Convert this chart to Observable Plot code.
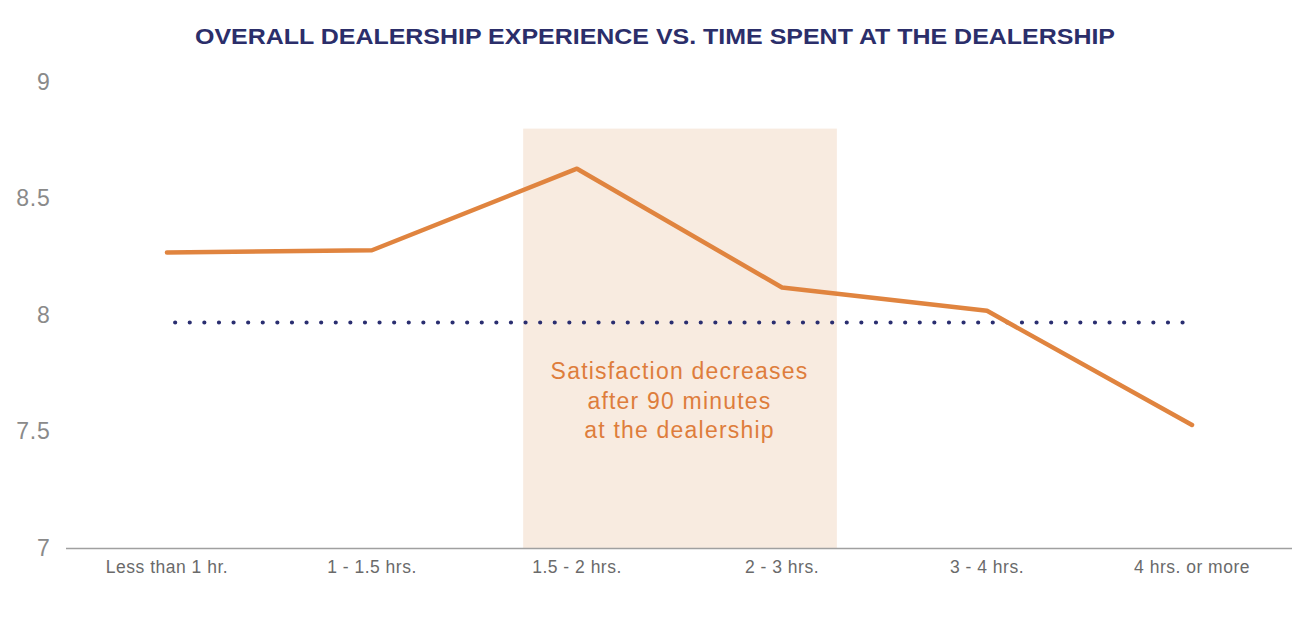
<!DOCTYPE html>
<html>
<head>
<meta charset="utf-8">
<script src="https://cdn.jsdelivr.net/npm/d3@7"></script>
<script src="https://cdn.jsdelivr.net/npm/@observablehq/plot@0.6"></script>
<style>
  html, body { margin: 0; padding: 0; background: #fff; }
  #wrap { width: 1312px; height: 618px; overflow: hidden; }
  #title { height: 60px; position: relative; }
  #title span {
    position: absolute; left: 655px; top: 24px;
    font-family: "Liberation Sans", Arial, sans-serif; font-weight: bold;
    font-size: 22.5px; line-height: 26px; color: #2b2e6a; white-space: nowrap;
    transform-origin: 0 0;
  }
  svg { display: block; }
</style>
</head>
<body>
<div id="wrap">
  <div id="title"><span>OVERALL DEALERSHIP EXPERIENCE VS. TIME SPENT AT THE DEALERSHIP</span></div>
  <div id="chart"></div>
</div>
<script>
const categories = ["Less than 1 hr.", "1 - 1.5 hrs.", "1.5 - 2 hrs.", "2 - 3 hrs.", "3 - 4 hrs.", "4 hrs. or more"];
const satisfaction = [8.27, 8.28, 8.63, 8.12, 8.02, 7.53];
const benchmark = 7.97;
const benchmarkSpan = [0.04, 5.0];
const highlightSpan = [1.74, 3.27];
const highlightTop = 8.8;
const yTicks = [7, 7.5, 8, 8.5, 9];
const annotation = "Satisfaction decreases\nafter 90 minutes\nat the dealership";
const annotationPos = {x: 2.5, y: 7.64};

const series = categories.map((c, i) => ({i, c, v: satisfaction[i]}));

const plot = Plot.plot({
  width: 1312,
  height: 558,
  marginLeft: 66,
  marginRight: 20,
  marginTop: 22,
  marginBottom: 70,
  style: {fontFamily: "'Liberation Sans', Arial, sans-serif", background: "#fff"},
  x: {domain: [-0.49, 5.49], label: null},
  y: {domain: [7, 9], label: null},
  marks: [
    Plot.rect([{x1: highlightSpan[0], x2: highlightSpan[1], y1: 7, y2: highlightTop}], {x1: "x1", x2: "x2", y1: "y1", y2: "y2", fill: "#f8ebe0"}),
    Plot.ruleY([7], {stroke: "#a0a0a0", strokeWidth: 1.5}),
    Plot.line(benchmarkSpan.map(x => ({x, y: benchmark})), {x: "x", y: "y", stroke: "#2a2e70", strokeWidth: 4.2, strokeDasharray: "0 14.6", strokeLinecap: "round"}),
    Plot.line(series, {x: "i", y: "v", stroke: "#e0843f", strokeWidth: 4.5, strokeLinejoin: "round"}),
    Plot.text([annotationPos], {x: "x", y: "y", text: () => annotation, fill: "#de7d3c", fontSize: 23, lineHeight: 1.28}),
    Plot.axisX({ticks: categories.map((_, i) => i), tickFormat: i => categories[i], tickSize: 0, tickPadding: 12, fontSize: 17.5, fill: "#6a6a6a"}),
    Plot.axisY({ticks: yTicks, tickFormat: d => String(d), tickSize: 0, tickPadding: 16, fontSize: 23, fill: "#8a8a8a"})
  ]
});
document.getElementById("chart").appendChild(plot);

// typographic tuning to match the reference's wider face
d3.select(plot).selectAll('g[aria-label="text"] text').style("letter-spacing", "1.2px");
d3.select(plot).selectAll('g[aria-label="x-axis tick label"] text').style("letter-spacing", "0.5px");
d3.select(plot).selectAll('g[aria-label="y-axis tick label"] text').style("letter-spacing", "0.8px");

const span = document.querySelector("#title span");
const w = span.getBoundingClientRect().width;
const target = 920;
span.style.transform = `translateX(${-target / 2}px) scaleX(${target / w})`;
</script>
</body>
</html>
